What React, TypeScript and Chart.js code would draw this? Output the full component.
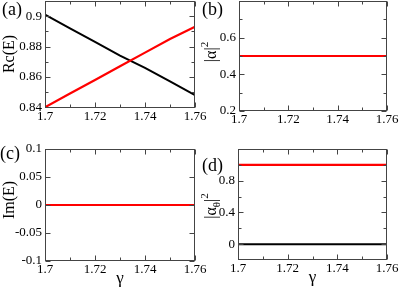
import React, { useEffect, useRef } from "react";
import { Chart, registerables } from "chart.js";
Chart.register(...registerables);

// ---- data ----
const gammaValues = [1.7, 1.71, 1.72, 1.73, 1.74, 1.75, 1.76];
const reEBlack = [0.901, 0.892, 0.883, 0.874, 0.866, 0.857, 0.848];
const reERed = [0.840, 0.849, 0.858, 0.867, 0.876, 0.885, 0.893];
const alphaBlack = [0.5, 0.5, 0.5, 0.5, 0.5, 0.5, 0.5];
const alphaRed = [0.5, 0.5, 0.5, 0.5, 0.5, 0.5, 0.5];
const imEBlack = [0, 0, 0, 0, 0, 0, 0];
const imERed = [0, 0, 0, 0, 0, 0, 0];
const alphaThetaBlack = [0, 0, 0, 0, 0, 0, 0];
const alphaThetaRed = [1, 1, 1, 1, 1, 1, 1];

const xTicks = [1.7, 1.72, 1.74, 1.76];
const xMinorTicks = [1.71, 1.73, 1.75];
const reETicks = [0.84, 0.86, 0.88, 0.9];
const reEMinorTicks = [0.85, 0.87, 0.89];
const alphaTicks = [0.2, 0.4, 0.6];
const alphaMinorTicks = [0.3, 0.5, 0.7];
const imETicks = [-0.1, -0.05, 0, 0.05, 0.1];
const imEMinorTicks: number[] = [];
const alphaThetaTicks = [0, 0.4, 0.8];
const alphaThetaMinorTicks = [0.2, 0.6, 1.0];

const SERIF = "'Liberation Serif', 'Times New Roman', serif";
const W = 399;
const H = 288;

type Part = { t: string; kind?: "sub" | "sup" };

type Panel = {
  key: string;
  label: string;
  labelPos: [number, number];
  plot: { l: number; r: number; t: number; b: number };
  yMin: number;
  yMax: number;
  yTicks: number[];
  yMinor: number[];
  black: number[];
  red: number[];
  title: Part[];
  titleCenter: [number, number];
  xTitle: boolean;
};

const panels: Panel[] = [
  {
    key: "a",
    label: "(a)",
    labelPos: [2, 10],
    plot: { l: 45, r: 195, t: 1, b: 108 },
    yMin: 0.8395,
    yMax: 0.91,
    yTicks: reETicks,
    yMinor: reEMinorTicks,
    black: reEBlack,
    red: reERed,
    title: [{ t: "Rc(E)" }],
    titleCenter: [10, 54],
    xTitle: false,
  },
  {
    key: "b",
    label: "(b)",
    labelPos: [202, 10],
    plot: { l: 239, r: 387, t: 1, b: 111 },
    yMin: 0.2,
    yMax: 0.8,
    yTicks: alphaTicks,
    yMinor: alphaMinorTicks,
    black: alphaBlack,
    red: alphaRed,
    title: [{ t: "|α|" }, { t: "2", kind: "sup" }],
    titleCenter: [212, 52],
    xTitle: false,
  },
  {
    key: "c",
    label: "(c)",
    labelPos: [0, 154],
    plot: { l: 45, r: 195, t: 149, b: 261 },
    yMin: -0.1,
    yMax: 0.1,
    yTicks: imETicks,
    yMinor: imEMinorTicks,
    black: imEBlack,
    red: imERed,
    title: [{ t: "Im(E)" }],
    titleCenter: [10, 200],
    xTitle: true,
  },
  {
    key: "d",
    label: "(d)",
    labelPos: [202, 166],
    plot: { l: 238, r: 387, t: 149, b: 260 },
    yMin: -0.2,
    yMax: 1.2,
    yTicks: alphaThetaTicks,
    yMinor: alphaThetaMinorTicks,
    black: alphaThetaBlack,
    red: alphaThetaRed,
    title: [{ t: "|α" }, { t: "θ", kind: "sub" }, { t: "|" }, { t: "2", kind: "sup" }],
    titleCenter: [212, 206],
    xTitle: true,
  },
];

const fmt = (v: number) => String(Number(v.toFixed(4)));

function makeDecorPlugin(p: Panel) {
  return {
    id: "decor_" + p.key,
    afterDatasetsDraw(chart: any) {
      const { ctx, chartArea } = chart;
      const { left, right, top, bottom } = chartArea;
      const xs = chart.scales.x;
      const ys = chart.scales.y;
      ctx.save();
      ctx.strokeStyle = "#444";
      ctx.lineWidth = 1;
      const L = Math.round(left) + 0.5;
      const R = Math.round(right) - 0.5;
      const T = Math.round(top) + 0.5;
      const B = Math.round(bottom) - 0.5;
      ctx.strokeRect(L, T, R - L, B - T);
      ctx.beginPath();
      const xt = (vals: number[], len: number) =>
        vals.forEach((v) => {
          const px = Math.round(xs.getPixelForValue(v)) + 0.5;
          ctx.moveTo(px, B);
          ctx.lineTo(px, B - len);
          ctx.moveTo(px, T);
          ctx.lineTo(px, T + len);
        });
      const yt = (vals: number[], len: number) =>
        vals.forEach((v) => {
          const py = Math.round(ys.getPixelForValue(v)) + 0.5;
          ctx.moveTo(L, py);
          ctx.lineTo(L + len, py);
          ctx.moveTo(R, py);
          ctx.lineTo(R - len, py);
        });
      xt(xTicks, 5);
      xt(xMinorTicks, 3);
      yt(p.yTicks, 5);
      yt(p.yMinor, 3);
      ctx.stroke();

      // panel label
      ctx.fillStyle = "#000";
      ctx.font = `18px ${SERIF}`;
      ctx.textBaseline = "middle";
      ctx.textAlign = "left";
      ctx.fillText(p.label, p.labelPos[0], p.labelPos[1]);

      // y title (rotated, with sub/superscripts)
      const baseFont = `16px ${SERIF}`;
      const smallFont = `11px ${SERIF}`;
      let total = 0;
      const widths = p.title.map((part) => {
        ctx.font = part.kind ? smallFont : baseFont;
        const w = ctx.measureText(part.t).width;
        total += w;
        return w;
      });
      ctx.translate(p.titleCenter[0], p.titleCenter[1]);
      ctx.rotate(-Math.PI / 2);
      let x = -total / 2;
      p.title.forEach((part, i) => {
        ctx.font = part.kind ? smallFont : baseFont;
        const dy = part.kind === "sup" ? -7 : part.kind === "sub" ? 5 : 0;
        ctx.fillText(part.t, x, dy);
        x += widths[i];
      });
      ctx.restore();
    },
  };
}

function PanelChart({ p }: { p: Panel }) {
  const ref = useRef<HTMLCanvasElement | null>(null);
  useEffect(() => {
    if (!ref.current) return;
    const yAxisW = 40;
    const xAxisH = p.xTitle ? 26 : 20;
    const chart = new Chart(ref.current, {
      type: "line",
      data: {
        labels: gammaValues,
        datasets: [
          {
            data: gammaValues.map((g, i) => ({ x: g, y: p.red[i] })),
            borderColor: "#ff0000",
            backgroundColor: "#ff0000",
            borderWidth: 2.2,
            pointRadius: 0,
            fill: false,
          },
          {
            data: gammaValues.map((g, i) => ({ x: g, y: p.black[i] })),
            borderColor: "#000000",
            backgroundColor: "#000000",
            borderWidth: 2,
            pointRadius: 0,
            fill: false,
          },
        ],
      },
      options: {
        animation: false,
        responsive: false,
        events: [],
        layout: {
          padding: {
            left: p.plot.l - yAxisW,
            right: W - p.plot.r,
            top: p.plot.t,
            bottom: H - p.plot.b - xAxisH,
          },
        },
        plugins: { legend: { display: false }, tooltip: { enabled: false } },
        scales: {
          x: {
            type: "linear",
            min: 1.7,
            max: 1.76,
            grid: { display: false, drawTicks: false },
            border: { display: false },
            afterBuildTicks: (s: any) => {
              s.ticks = xTicks.map((v) => ({ value: v }));
            },
            afterFit: (s: any) => {
              s.height = xAxisH;
              s.paddingLeft = 0;
              s.paddingRight = 0;
            },
            ticks: {
              color: "#000",
              padding: 1,
              maxRotation: 0,
              autoSkip: false,
              font: { family: SERIF, size: 13 },
              callback: (v: any) => fmt(Number(v)),
            },
            title: {
              display: p.xTitle,
              text: "γ",
              color: "#000",
              font: { family: SERIF, size: 17, lineHeight: 1 },
              padding: { top: 0, bottom: 0 },
            },
          },
          y: {
            type: "linear",
            min: p.yMin,
            max: p.yMax,
            grid: { display: false, drawTicks: false },
            border: { display: false },
            afterBuildTicks: (s: any) => {
              s.ticks = p.yTicks.map((v) => ({ value: v }));
            },
            afterFit: (s: any) => {
              s.width = yAxisW;
              s.paddingTop = 0;
              s.paddingBottom = 0;
            },
            ticks: {
              color: "#000",
              padding: 3,
              autoSkip: false,
              font: { family: SERIF, size: 13 },
              callback: (v: any) => fmt(Number(v)),
            },
          },
        },
      },
      plugins: [makeDecorPlugin(p)],
    } as any);
    return () => chart.destroy();
  }, [p]);
  return (
    <canvas
      ref={ref}
      width={W}
      height={H}
      style={{ position: "absolute", left: 0, top: 0, width: W, height: H }}
    />
  );
}

export default function App() {
  return (
    <div
      style={{
        position: "fixed",
        left: 0,
        top: 0,
        width: W,
        height: H,
        background: "#fff",
        overflow: "hidden",
      }}
    >
      {panels.map((p) => (
        <PanelChart key={p.key} p={p} />
      ))}
    </div>
  );
}
